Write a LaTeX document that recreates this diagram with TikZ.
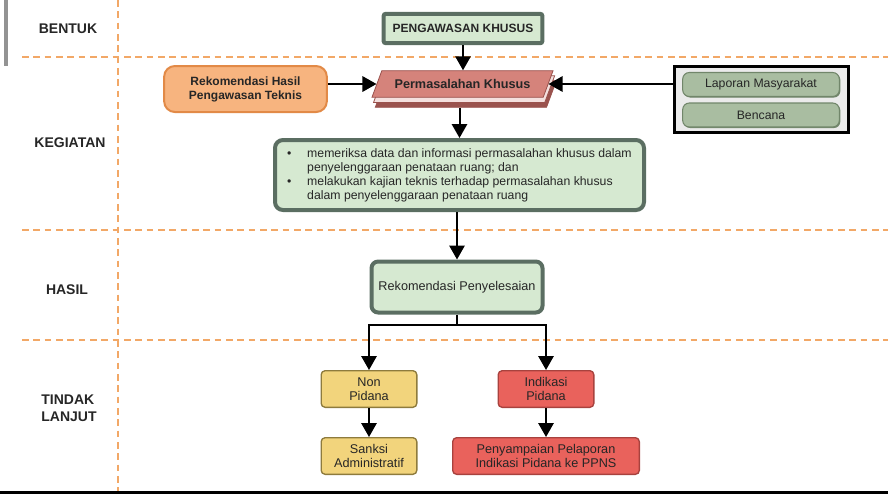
\documentclass[tikz,border=0pt]{standalone}
\usepackage{fontspec}
\setmainfont{Liberation Sans}
\usetikzlibrary{arrows.meta,positioning,shapes.geometric,shadows}

\definecolor{boxgreen}{HTML}{D6E9D1}
\definecolor{boxframe}{HTML}{5B6E62}
\definecolor{dashorange}{HTML}{F2A867}
\definecolor{probred}{HTML}{D5837B}
\definecolor{probdark}{HTML}{9A524D}
\definecolor{rekorange}{HTML}{F7B47F}
\definecolor{rekframe}{HTML}{E28A47}
\definecolor{sage}{HTML}{A9BDA1}
\definecolor{sageframe}{HTML}{71866A}
\definecolor{lapgray}{HTML}{EBEBEB}
\definecolor{nonyellow}{HTML}{F2D47C}
\definecolor{nonframe}{HTML}{8E7B3D}
\definecolor{pidred}{HTML}{E9625C}
\definecolor{pidframe}{HTML}{A8423E}
\definecolor{textdark}{HTML}{262626}

\begin{document}
\begin{tikzpicture}[x=0.75pt,y=-0.75pt,node distance=50.25pt,>={Triangle[width=11.5pt,length=10.5pt]}]
	\tikzstyle{lane}=[dashorange, line width=1.1pt, dash pattern=on 5pt off 3.5pt]
	\tikzstyle{lanelabel}=[font=\bfseries\fontsize{10.5}{12.5}\selectfont, text=textdark, align=left]
	\tikzstyle{greenbox}=[rectangle, rounded corners=6pt, draw=boxframe, line width=3pt, fill=boxgreen, text=textdark, font=\fontsize{9.5}{10.5}\selectfont]
	\tikzstyle{problem}=[trapezium, trapezium left angle=64, trapezium right angle=116, trapezium stretches=true, minimum width=136pt, minimum height=20pt, fill=probred, draw=probdark, line width=0.6pt, text=textdark, font=\bfseries\fontsize{9.5}{11}\selectfont, general shadow={fill=probdark, draw=probdark, shadow xshift=2.5pt, shadow yshift=-7.5pt}, general shadow={fill=white!75!probred, draw=probdark, shadow xshift=1.2pt, shadow yshift=-3.8pt}]
	\tikzstyle{source}=[rectangle, rounded corners=8pt, draw=rekframe, line width=1.5pt, fill=rekorange, text=textdark, align=center, font=\bfseries\fontsize{9}{10.5}\selectfont, minimum width=122pt, minimum height=34.5pt]
	\tikzstyle{sourcebox}=[rectangle, draw=black, line width=2pt, fill=lapgray, minimum width=130.75pt, minimum height=49.75pt]
	\tikzstyle{sourceitem}=[rectangle, rounded corners=5pt, draw=sageframe, line width=0.8pt, fill=sage, text=textdark, font=\fontsize{9.2}{11}\selectfont, minimum width=117.5pt, minimum height=18pt, general shadow={fill=sageframe, shadow xshift=0.8pt, shadow yshift=-0.8pt}]
	\tikzstyle{nonbox}=[rectangle, rounded corners=3pt, draw=nonframe, line width=1pt, fill=nonyellow, text=textdark, align=center, inner sep=1pt, font=\fontsize{9.5}{10.5}\selectfont, minimum width=71.75pt, minimum height=27.5pt]
	\tikzstyle{pidbox}=[nonbox, draw=pidframe, fill=pidred]
	\tikzstyle{flow}=[->, line width=1.5pt, black]

	\useasboundingbox (0,0) rectangle (888,494);
	\fill[gray!85] (4,0) rectangle (8,66);
	\fill[black] (0,491) rectangle (888,494);

	% lanes
	\draw[lane] (118,0) -- (118,491);
	\draw[lane] (22,57) -- (888,57);
	\draw[lane] (22,230) -- (888,230);
	\draw[lane] (22,340) -- (888,340);

	\node[lanelabel] (lblbentuk) at (68,29) {BENTUK};
	\node[lanelabel] (lblkegiatan) at (70,143) {KEGIATAN};
	\node[lanelabel] (lblhasil) at (67,290) {HASIL};
	\node[lanelabel] (lbltindak) at (69,408) {TINDAK\\LANJUT};

	% bentuk dan kegiatan
	\node[greenbox, rounded corners=1.5pt, minimum width=119pt, minimum height=22pt, font=\bfseries\fontsize{9}{11}\selectfont] (peng) at (463,28.5) {PENGAWASAN KHUSUS};
	\node[problem] (perm) at (462.5,84) {Permasalahan Khusus};
	\node[source] (rekhasil) at (245.5,89) {Rekomendasi Hasil\\Pengawasan Teknis};
	\node[sourcebox] (lapbox) at (761.5,99.5) {};
	\node[sourceitem] (laporan) at (761,84.5) {Laporan Masyarakat};
	\node[sourceitem] (bencana) at (761,115) {Bencana};
	\node[greenbox, align=left, minimum width=276.75pt, minimum height=52.5pt, font=\fontsize{9.2}{10.5}\selectfont] (kegiatan) at (459.5,175) {%
		\makebox[15pt][l]{\textbullet}memeriksa data dan informasi permasalahan khusus dalam\\
		\hspace*{15pt}penyelenggaraan penataan ruang; dan\\
		\makebox[15pt][l]{\textbullet}melakukan kajian teknis terhadap permasalahan khusus\\
		\hspace*{15pt}dalam penyelenggaraan penataan ruang};

	% hasil
	\node[greenbox, rounded corners=5pt, minimum width=128.25pt, minimum height=38.25pt] (rekpen) at (457,287) {Rekomendasi Penyelesaian};

	% tindak lanjut
	\node[nonbox] (nonpid) at (369,389) {Non\\Pidana};
	\node[nonbox] (sanksi) [below of=nonpid] {Sanksi\\Administratif};
	\node[pidbox] (indpid) at (546,389) {Indikasi\\Pidana};
	\node[pidbox, minimum width=140pt] (ppns) [below of=indpid] {Penyampaian Pelaporan\\Indikasi Pidana ke PPNS};

	\draw[flow] (peng.south) -- (peng.south |- perm.north);
	\draw[flow] (rekhasil.east |- perm.west) -- (perm.west);
	\draw[flow] (lapbox.west |- perm.east) -- (perm.east);
	\draw[flow] ([yshift=-8pt]kegiatan.north |- perm.south) -- (kegiatan.north);
	\draw[flow] (rekpen.north |- kegiatan.south) -- (rekpen.north);
	\coordinate[below=8pt of rekpen.south] (split);
	\draw[flow] (rekpen.south) -- (split) -| (nonpid.north);
	\draw[flow] (split) -| (indpid.north);
	\draw[flow] (nonpid) -- (sanksi);
	\draw[flow] (indpid) -- (ppns);
\end{tikzpicture}
\end{document}
